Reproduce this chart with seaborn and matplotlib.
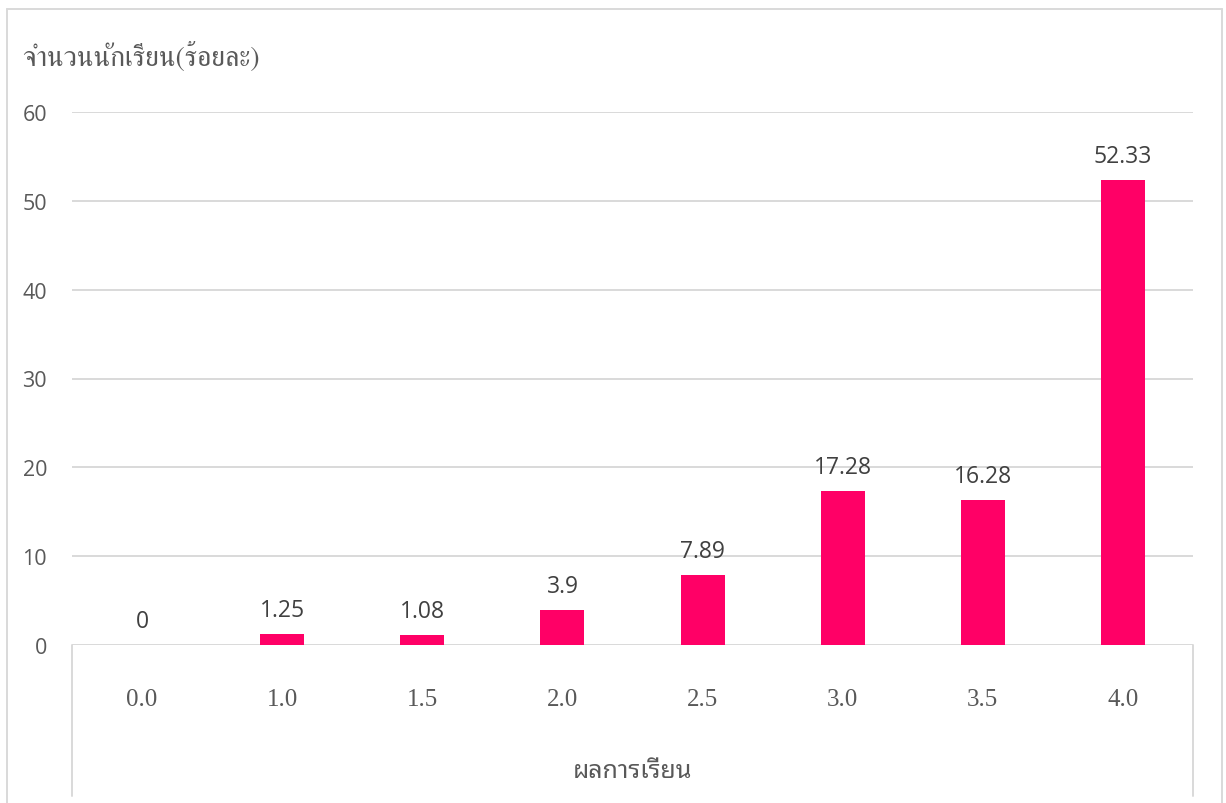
import matplotlib
matplotlib.use("Agg")
import matplotlib.pyplot as plt
from matplotlib.lines import Line2D
import seaborn as sns
import pandas as pd

categories = ["0.0", "1.0", "1.5", "2.0", "2.5", "3.0", "3.5", "4.0"]
values = [0, 1.25, 1.08, 3.9, 7.89, 17.28, 16.28, 52.33]
value_labels = ["0", "1.25", "1.08", "3.9", "7.89", "17.28", "16.28", "52.33"]
y_ticks = [0, 10, 20, 30, 40, 50, 60]
y_title = "จำนวนนักเรียน(ร้อยละ)"
x_title = "ผลการเรียน"

BAR = "#FF0066"
GRID = "#D9D9D9"
TXT = "#595959"
LBL = "#404040"

sns.set_theme(style="white")
plt.rcParams["font.family"] = ["Open Sans", "DejaVu Sans"]

W, H = 1226, 804
fig = plt.figure(figsize=(W / 100, H / 100), dpi=100)
x0, x1, y0, y60 = 72, 1193, 646, 113
ax = fig.add_axes([x0 / W, 1 - y0 / H, (x1 - x0) / W, (y0 - y60) / H])

df = pd.DataFrame({"cat": categories, "val": values})
sns.barplot(data=df, x="cat", y="val", color=BAR, width=0.314, ax=ax,
            saturation=1, linewidth=0)
ax.set_ylim(0, 60)
ax.set_xlim(-0.5, len(categories) - 0.5)
ax.set_yticks(y_ticks)
ax.yaxis.grid(True, color=GRID, linewidth=1.4)
ax.set_axisbelow(True)
for s in ax.spines.values():
    s.set_visible(False)
ax.set_xlabel("")
ax.set_ylabel("")
ax.tick_params(axis="y", length=0, pad=18, labelsize=15.5, labelcolor=TXT)
ax.tick_params(axis="x", length=0, pad=31, labelcolor=TXT)
for t in ax.get_xticklabels():
    t.set_family(["Liberation Serif"])
    t.set_fontsize(18)
for t in ax.get_yticklabels():
    t.set_family(["Open Sans"])

# data labels
for i, (v, s) in enumerate(zip(values, value_labels)):
    ax.annotate(s, (i, v), xytext=(0, 13), textcoords="offset points",
                ha="center", va="baseline", fontsize=16.5, color=LBL,
                family=["Open Sans"])

# category-axis box lines below the plot
ax.plot([0, 0], [0, -0.283], transform=ax.transAxes, color=GRID, lw=1.4, clip_on=False)
ax.plot([1, 1], [0, -0.283], transform=ax.transAxes, color=GRID, lw=1.4, clip_on=False)

# titles
fig.text(22 / W, 1 - 57 / H, y_title, fontsize=20, color=TXT,
         family=["FreeSerif", "DejaVu Sans"], ha="left", va="center")
fig.text((x0 + x1) / 2 / W, 1 - 772 / H, x_title, fontsize=18, color=TXT,
         family=["Noto Sans Thai Looped", "DejaVu Sans"], ha="center", va="center")

# outer chart frame
for xs, ys in [([7, 7], [10, H]), ([7, 1222], [10, 10]), ([1222, 1222], [10, H])]:
    fig.add_artist(Line2D([x / W for x in xs], [1 - y / H for y in ys],
                          color=GRID, lw=1.4, transform=fig.transFigure))

fig.savefig("out.png", dpi=100)
